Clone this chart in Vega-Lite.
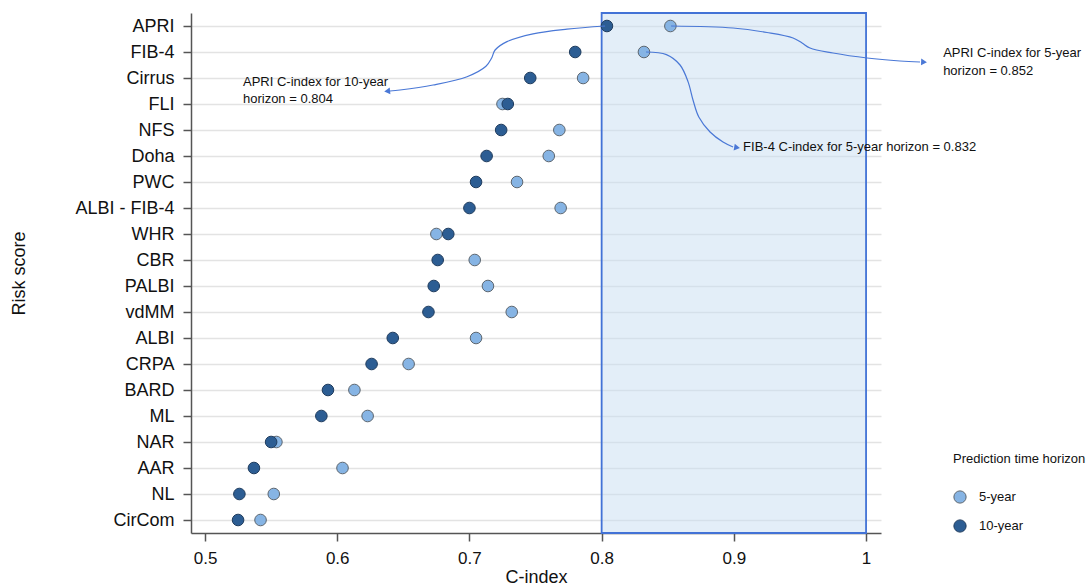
{
  "$schema": "https://vega.github.io/schema/vega-lite/v6.json",
  "autosize": "none",
  "width": 690,
  "height": 520,
  "padding": {"left": 191, "top": 13, "right": 208, "bottom": 54},
  "background": "white",
  "config": {
    "view": {"stroke": null},
    "font": "Liberation Sans",
    "axis": {
      "domainColor": "#555555",
      "domainWidth": 1.5,
      "tickColor": "#555555",
      "tickWidth": 1.5,
      "tickSize": 8,
      "labelColor": "#111111",
      "titleColor": "#111111",
      "titleFontWeight": "normal",
      "labelFont": "Liberation Sans",
      "titleFont": "Liberation Sans"
    },
    "legend": {
      "titleFontWeight": "normal",
      "titleFontSize": 13,
      "labelFontSize": 13,
      "titleColor": "#111111",
      "labelColor": "#111111",
      "titleFont": "Liberation Sans",
      "labelFont": "Liberation Sans"
    }
  },
  "datasets": {
    "points": [
      {"score": "APRI", "horizon": "5-year", "cindex": 0.852},
      {"score": "FIB-4", "horizon": "5-year", "cindex": 0.832},
      {"score": "Cirrus", "horizon": "5-year", "cindex": 0.786},
      {"score": "FLI", "horizon": "5-year", "cindex": 0.725},
      {"score": "NFS", "horizon": "5-year", "cindex": 0.768},
      {"score": "Doha", "horizon": "5-year", "cindex": 0.760},
      {"score": "PWC", "horizon": "5-year", "cindex": 0.736},
      {"score": "ALBI - FIB-4", "horizon": "5-year", "cindex": 0.769},
      {"score": "WHR", "horizon": "5-year", "cindex": 0.675},
      {"score": "CBR", "horizon": "5-year", "cindex": 0.704},
      {"score": "PALBI", "horizon": "5-year", "cindex": 0.714},
      {"score": "vdMM", "horizon": "5-year", "cindex": 0.732},
      {"score": "ALBI", "horizon": "5-year", "cindex": 0.705},
      {"score": "CRPA", "horizon": "5-year", "cindex": 0.654},
      {"score": "BARD", "horizon": "5-year", "cindex": 0.613},
      {"score": "ML", "horizon": "5-year", "cindex": 0.623},
      {"score": "NAR", "horizon": "5-year", "cindex": 0.554},
      {"score": "AAR", "horizon": "5-year", "cindex": 0.604},
      {"score": "NL", "horizon": "5-year", "cindex": 0.552},
      {"score": "CirCom", "horizon": "5-year", "cindex": 0.542},
      {"score": "APRI", "horizon": "10-year", "cindex": 0.804},
      {"score": "FIB-4", "horizon": "10-year", "cindex": 0.780},
      {"score": "Cirrus", "horizon": "10-year", "cindex": 0.746},
      {"score": "FLI", "horizon": "10-year", "cindex": 0.729},
      {"score": "NFS", "horizon": "10-year", "cindex": 0.724},
      {"score": "Doha", "horizon": "10-year", "cindex": 0.713},
      {"score": "PWC", "horizon": "10-year", "cindex": 0.705},
      {"score": "ALBI - FIB-4", "horizon": "10-year", "cindex": 0.700},
      {"score": "WHR", "horizon": "10-year", "cindex": 0.684},
      {"score": "CBR", "horizon": "10-year", "cindex": 0.676},
      {"score": "PALBI", "horizon": "10-year", "cindex": 0.673},
      {"score": "vdMM", "horizon": "10-year", "cindex": 0.669},
      {"score": "ALBI", "horizon": "10-year", "cindex": 0.642},
      {"score": "CRPA", "horizon": "10-year", "cindex": 0.626},
      {"score": "BARD", "horizon": "10-year", "cindex": 0.593},
      {"score": "ML", "horizon": "10-year", "cindex": 0.588},
      {"score": "NAR", "horizon": "10-year", "cindex": 0.550},
      {"score": "AAR", "horizon": "10-year", "cindex": 0.537},
      {"score": "NL", "horizon": "10-year", "cindex": 0.526},
      {"score": "CirCom", "horizon": "10-year", "cindex": 0.525}
    ],
    "curves": [
      {"id": "a10", "ord": 1, "x": 0.8026, "y": 0.5},
      {"id": "a10", "ord": 2, "x": 0.7738, "y": 0.62},
      {"id": "a10", "ord": 3, "x": 0.7481, "y": 0.8},
      {"id": "a10", "ord": 4, "x": 0.7284, "y": 1.1},
      {"id": "a10", "ord": 5, "x": 0.7194, "y": 1.423},
      {"id": "a10", "ord": 6, "x": 0.7168, "y": 1.731},
      {"id": "a10", "ord": 7, "x": 0.7125, "y": 2.05},
      {"id": "a10", "ord": 8, "x": 0.6982, "y": 2.45},
      {"id": "a10", "ord": 9, "x": 0.6725, "y": 2.769},
      {"id": "a10", "ord": 10, "x": 0.6475, "y": 2.962},
      {"id": "a10", "ord": 11, "x": 0.6399, "y": 3.0},
      {"id": "a5", "ord": 1, "x": 0.8525, "y": 0.5},
      {"id": "a5", "ord": 2, "x": 0.8994, "y": 0.577},
      {"id": "a5", "ord": 3, "x": 0.9251, "y": 0.75},
      {"id": "a5", "ord": 4, "x": 0.9448, "y": 0.962},
      {"id": "a5", "ord": 5, "x": 0.9516, "y": 1.154},
      {"id": "a5", "ord": 6, "x": 0.9576, "y": 1.346},
      {"id": "a5", "ord": 7, "x": 0.975, "y": 1.538},
      {"id": "a5", "ord": 8, "x": 1.0008, "y": 1.731},
      {"id": "a5", "ord": 9, "x": 1.0257, "y": 1.846},
      {"id": "a5", "ord": 10, "x": 1.0408, "y": 1.885},
      {"id": "f5", "ord": 1, "x": 0.8336, "y": 1.5},
      {"id": "f5", "ord": 2, "x": 0.849, "y": 1.6},
      {"id": "f5", "ord": 3, "x": 0.8593, "y": 2.0},
      {"id": "f5", "ord": 4, "x": 0.8654, "y": 2.65},
      {"id": "f5", "ord": 5, "x": 0.8691, "y": 3.346},
      {"id": "f5", "ord": 6, "x": 0.8735, "y": 4.0},
      {"id": "f5", "ord": 7, "x": 0.882, "y": 4.577},
      {"id": "f5", "ord": 8, "x": 0.8918, "y": 4.962},
      {"id": "f5", "ord": 9, "x": 0.8994, "y": 5.154}
    ],
    "heads": [
      {"x": 0.6385, "y": 3.0, "angle": 264},
      {"x": 1.0431, "y": 1.885, "angle": 92},
      {"x": 0.9017, "y": 5.17, "angle": 100}
    ],
    "labels": [
      {"text": "APRI C-index for 10-year", "x": 0.5287, "y": 2.654},
      {"text": "horizon = 0.804", "x": 0.5287, "y": 3.308},
      {"text": "APRI C-index for 5-year", "x": 1.0583, "y": 1.538},
      {"text": "horizon = 0.852", "x": 1.0583, "y": 2.231},
      {"text": "FIB-4 C-index for 5-year horizon = 0.832", "x": 0.907, "y": 5.154}
    ],
    "band": [{"from": 0.8, "to": 1.0}]
  },
  "layer": [
    {
      "data": {"name": "band"},
      "mark": {"type": "rect", "fill": "#c8ddf2", "fillOpacity": 0.5, "stroke": "#4272d6", "strokeWidth": 1.8},
      "encoding": {
        "x": {"field": "from", "type": "quantitative"},
        "x2": {"field": "to"}
      }
    },
    {
      "data": {"name": "points"},
      "mark": {"type": "circle", "size": 135, "opacity": 1, "strokeWidth": 1},
      "encoding": {
        "x": {
          "field": "cindex",
          "type": "quantitative",
          "scale": {"domain": [0.4894, 1.0113], "nice": false, "zero": false},
          "axis": {
            "values": [0.5, 0.6, 0.7, 0.8, 0.9, 1],
            "format": "~g",
            "title": "C-index",
            "grid": false,
            "labelFontSize": 17,
            "titleFontSize": 18,
            "labelPadding": 9,
            "titlePadding": 2
          }
        },
        "y": {
          "field": "score",
          "type": "nominal",
          "sort": ["APRI", "FIB-4", "Cirrus", "FLI", "NFS", "Doha", "PWC", "ALBI - FIB-4", "WHR", "CBR", "PALBI", "vdMM", "ALBI", "CRPA", "BARD", "ML", "NAR", "AAR", "NL", "CirCom"],
          "axis": {
            "title": "Risk score",
            "grid": true,
            "gridColor": "#e3e3e3",
            "gridWidth": 1.5,
            "labelFontSize": 18,
            "titleFontSize": 18,
            "labelPadding": 9,
            "titlePadding": 46
          }
        },
        "fill": {
          "field": "horizon",
          "type": "nominal",
          "scale": {"domain": ["5-year", "10-year"], "range": ["#86b4e4", "#2c5d93"]},
          "legend": {
            "title": "Prediction time horizon",
            "orient": "none",
            "legendX": 762,
            "legendY": 440,
            "padding": 0,
            "titlePadding": 24,
            "rowPadding": 11,
            "symbolSize": 150,
            "symbolStrokeWidth": 1,
            "labelOffset": 12
          }
        },
        "stroke": {
          "field": "horizon",
          "type": "nominal",
          "scale": {"domain": ["5-year", "10-year"], "range": ["#5c6670", "#1f3c5e"]},
          "legend": {
            "title": "Prediction time horizon",
            "orient": "none",
            "legendX": 762,
            "legendY": 440,
            "padding": 0,
            "titlePadding": 24,
            "rowPadding": 11,
            "symbolSize": 150,
            "symbolStrokeWidth": 1,
            "labelOffset": 12
          }
        }
      }
    },
    {
      "data": {"name": "curves"},
      "mark": {"type": "line", "interpolate": "catmull-rom", "color": "#4a78d6", "strokeWidth": 1.2},
      "encoding": {
        "x": {"field": "x", "type": "quantitative"},
        "y": {"field": "y", "type": "quantitative", "scale": {"domain": [0, 20], "reverse": true, "nice": false, "zero": false}, "axis": null},
        "detail": {"field": "id"},
        "order": {"field": "ord", "type": "quantitative"}
      }
    },
    {
      "data": {"name": "heads"},
      "mark": {"type": "point", "shape": "triangle", "filled": true, "color": "#4a78d6", "size": 45, "opacity": 1},
      "encoding": {
        "x": {"field": "x", "type": "quantitative"},
        "y": {"field": "y", "type": "quantitative", "scale": {"domain": [0, 20], "reverse": true, "nice": false, "zero": false}, "axis": null},
        "angle": {"field": "angle", "type": "quantitative", "scale": null}
      }
    },
    {
      "data": {"name": "labels"},
      "mark": {"type": "text", "align": "left", "baseline": "middle", "fontSize": 13, "font": "Liberation Sans", "color": "#111111"},
      "encoding": {
        "x": {"field": "x", "type": "quantitative"},
        "y": {"field": "y", "type": "quantitative", "scale": {"domain": [0, 20], "reverse": true, "nice": false, "zero": false}, "axis": null},
        "text": {"field": "text"}
      }
    }
  ],
  "resolve": {"scale": {"y": "independent"}}
}
